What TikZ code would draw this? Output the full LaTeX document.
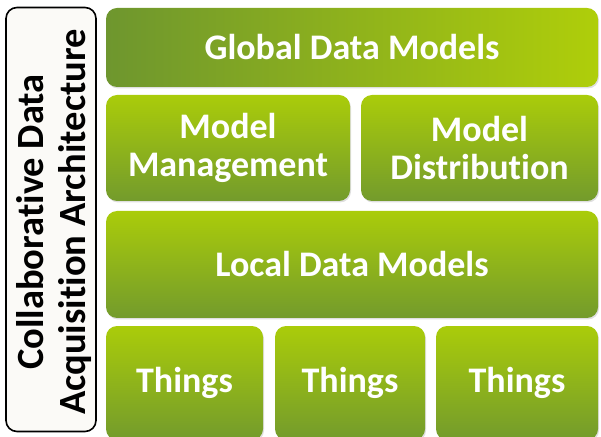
\documentclass[tikz,border=0pt]{standalone}
\usepackage{fontspec}
\setmainfont{Carlito}[Ligatures=NoCommon]
\usetikzlibrary{shadows}
\definecolor{limetop}{HTML}{AACC0A}
\definecolor{limemid}{HTML}{9CBF16}
\definecolor{olivebot}{HTML}{739B2C}
\definecolor{oliveleft}{HTML}{6E962E}
\definecolor{limeright}{HTML}{AFCE0A}
\definecolor{paper}{HTML}{FBFAF7}
\tikzset{
  block/.style={rounded corners=11pt, inner sep=0pt, align=center,
    text=white, font=\fontsize{36}{38}\selectfont\bfseries,
    drop shadow={opacity=0.25, shadow xshift=1pt, shadow yshift=-1.5pt}},
  vgrad/.style={block, top color=limetop, middle color=limemid, bottom color=olivebot},
  hgrad/.style={block, left color=oliveleft, right color=limeright},
  sidebox/.style={draw=black, line width=1.6pt, fill=paper, rounded corners=11pt,
    inner sep=0pt},
  sidetext/.style={rotate=90, inner sep=0pt, align=center, text=black,
    font=\fontsize{38.5}{42}\selectfont\bfseries}
}
\begin{document}
\begin{tikzpicture}[x=1pt, y=1pt]
  \useasboundingbox (0,0) rectangle (601,436);
  \clip (0,0) rectangle (601,436);
  % side label spanning the whole stack
  \node[sidebox, minimum width=90pt, minimum height=424pt] (arch) at (51,216.5) {};
  \node[sidetext] (archlabel) at (54,214) {Collaborative Data\\Acquisition Architecture};
  % layers, top to bottom
  \node[hgrad, minimum width=492pt, minimum height=79pt] (global) at (352,388.5) {Global Data Models};
  \node[vgrad, minimum width=244pt, minimum height=106pt] (mm) at (228,288) {Model\\Management};
  \node[vgrad, minimum width=237pt, minimum height=106pt] (md) at (479.5,288) {Model\\Distribution};
  \node[vgrad, minimum width=492pt, minimum height=107pt] (local) at (352,171.5) {Local Data Models};
  \node[vgrad, minimum width=157pt, minimum height=114pt] (t1) at (184.5,53) {Things};
  \node[vgrad, minimum width=150pt, minimum height=114pt] (t2) at (350,53) {Things};
  \node[vgrad, minimum width=162pt, minimum height=114pt] (t3) at (517,53) {Things};
\end{tikzpicture}
\end{document}
